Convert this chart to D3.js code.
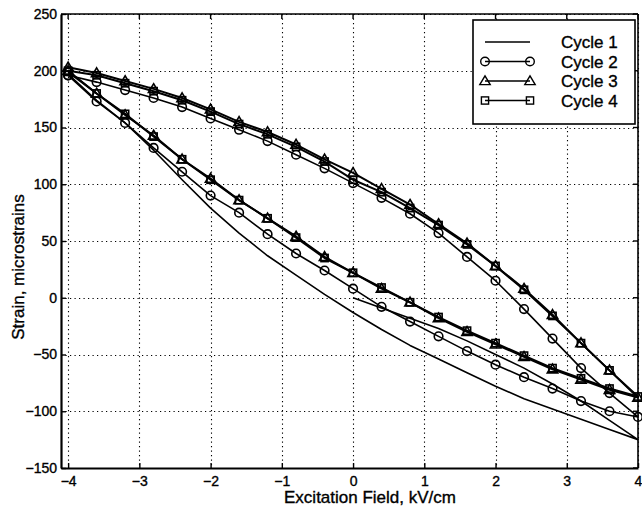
<!DOCTYPE html>
<html>
<head>
<meta charset="utf-8">
<script src="https://cdn.jsdelivr.net/npm/d3@7"></script>
<style>
  body { margin: 0; background: #fff; }
  svg { display: block; font-family: "Liberation Sans", Arial, Helvetica, sans-serif; }
  text { stroke: #000; stroke-width: 0.35px; }
</style>
</head>
<body>
<svg id="chart" width="642" height="513"></svg>
<script>
// Field sweeps, kV/cm
const fieldUp = [-4, -3.6, -3.2, -2.8, -2.4, -2, -1.6, -1.2, -0.8, -0.4, 0, 0.4, 0.8, 1.2, 1.6, 2, 2.4, 2.8, 3.2, 3.6, 4];
const fieldDown = [3.6, 3.2, 2.8, 2.4, 2, 1.6, 1.2, 0.8, 0.4, 0, -0.4, -0.8, -1.2, -1.6, -2, -2.4, -2.8, -3.2, -3.6, -4];
const fieldInitial = [0, 0.4, 0.8, 1.2, 1.6, 2, 2.4, 2.8, 3.2, 3.6, 4];

// Strain, microstrains
const cycle1Initial = [0, -9, -18, -27, -38, -50, -62, -76, -91, -108, -125];
const cycle1Down = [-116, -107, -98, -89, -78, -66, -54, -42, -28, -13, 3, 20, 37, 57, 79, 104, 130, 154, 174, 197];

const cycle2Up = [196, 190, 183, 176, 168, 158, 148, 138, 126, 114, 101, 88, 74, 57, 36, 15, -10, -36, -62, -84, -105];
const cycle2Down = [-100, -91, -80, -70, -59, -47, -34, -21, -8, 8, 24, 39, 56, 75, 90, 111, 132, 154, 173, 196];

const cycle3Up = [203, 198, 191, 184, 176, 166, 155, 146, 135, 122, 110, 96, 82, 65, 48, 28, 8, -15, -40, -64, -88];
const cycle3Down = [-81, -72, -63, -52, -41, -30, -18, -4, 8, 22, 36, 54, 70, 86, 105, 122, 143, 161, 180, 200];

const cycle4Up = [200, 196, 189, 182, 174, 164, 153, 144, 133, 120, 104, 93, 79, 64, 47, 28, 7, -16, -40, -64, -87];
const cycle4Down = [-80, -71, -62, -51, -40, -29, -17, -4, 9, 22, 35, 53, 70, 86, 104, 122, 142, 162, 180, 199];

const xTicks = [-4, -3, -2, -1, 0, 1, 2, 3, 4];
const yTicks = [-150, -100, -50, 0, 50, 100, 150, 200, 250];

const seriesNames = ["Cycle 1", "Cycle 2", "Cycle 3", "Cycle 4"];
const markerTypes = ["none", "circle", "triangle", "square"];

function pairUp(xs, ys) {
  return xs.map((x, i) => ({ x: x, y: ys[i] }));
}

const series = [
  pairUp(fieldInitial.concat(fieldDown), cycle1Initial.concat(cycle1Down)),
  pairUp(fieldUp.concat(fieldDown), cycle2Up.concat(cycle2Down)),
  pairUp(fieldUp.concat(fieldDown), cycle3Up.concat(cycle3Down)),
  pairUp(fieldUp.concat(fieldDown), cycle4Up.concat(cycle4Down))
];

/*
 * layout
 */
const plot = { left: 61, right: 638, top: 14, bottom: 468 };

const svg = d3.select("#chart");

const xScale = d3.scaleLinear().domain([-4.1, 4]).range([plot.left, plot.right]);
const yScale = d3.scaleLinear().domain([-150, 250]).range([plot.bottom, plot.top]);

// dotted grid
const grid = svg.append("g").attr("stroke", "#000").attr("stroke-width", 1.1)
  .attr("stroke-dasharray", "1.2,3.3");
grid.selectAll(".vg").data(xTicks).enter().append("line")
  .attr("x1", (d) => Math.round(xScale(d)) + 0.5).attr("x2", (d) => Math.round(xScale(d)) + 0.5)
  .attr("y1", plot.top).attr("y2", plot.bottom);
grid.selectAll(".hg").data(yTicks).enter().append("line")
  .attr("y1", (d) => Math.round(yScale(d)) + 0.5).attr("y2", (d) => Math.round(yScale(d)) + 0.5)
  .attr("x1", plot.left).attr("x2", plot.right);

// axes, MATLAB style ticks pointing inward
const axisFont = "14px";
const xAxis = svg.append("g")
  .attr("transform", `translate(0,${plot.bottom})`)
  .call(d3.axisBottom(xScale).tickValues(xTicks).tickSizeInner(-5).tickSizeOuter(0)
    .tickPadding(8).tickFormat((d) => (d < 0 ? "\u2212" + Math.abs(d) : d)));
const yAxis = svg.append("g")
  .attr("transform", `translate(${plot.left},0)`)
  .call(d3.axisLeft(yScale).tickValues(yTicks).tickSizeInner(-5).tickSizeOuter(0)
    .tickPadding(4).tickFormat((d) => (d < 0 ? "\u2212" + Math.abs(d) : d)));

[xAxis, yAxis].forEach((ax) => {
  ax.select(".domain").attr("stroke-width", 2.2);
  ax.selectAll(".tick line").attr("stroke-width", 1.4);
  ax.selectAll(".tick text")
    .style("font-size", axisFont)
    .style("font-family", '"Liberation Sans", Arial, sans-serif')
    .attr("fill", "#000");
});
xAxis.selectAll(".tick text").attr("dy", "0.71em");

// top and right border with their own ticks
const frame = svg.append("g").attr("stroke", "#000").attr("stroke-width", 1.4);
frame.append("line").attr("x1", plot.left).attr("x2", plot.right)
  .attr("y1", plot.top).attr("y2", plot.top).attr("stroke-width", 1.6);
frame.append("line").attr("x1", plot.right).attr("x2", plot.right)
  .attr("y1", plot.top).attr("y2", plot.bottom).attr("stroke-width", 1.6);
frame.selectAll(".tt").data(xTicks).enter().append("line")
  .attr("x1", (d) => xScale(d)).attr("x2", (d) => xScale(d))
  .attr("y1", plot.top).attr("y2", plot.top + 5);
frame.selectAll(".rt").data(yTicks).enter().append("line")
  .attr("y1", (d) => yScale(d)).attr("y2", (d) => yScale(d))
  .attr("x1", plot.right).attr("x2", plot.right - 5);

// axis titles
svg.append("text")
  .attr("x", 370).attr("y", 503)
  .attr("text-anchor", "middle")
  .style("font-size", "17px")
  .text("Excitation Field, kV/cm");

svg.append("text")
  .attr("transform", "translate(24,267) rotate(-90)")
  .attr("text-anchor", "middle")
  .style("font-size", "17px")
  .text("Strain, microstrains");

/*
 * lines and markers
 */
const lineGen = d3.line().x((d) => xScale(d.x)).y((d) => yScale(d.y));
const lineWidths = [1.6, 1.6, 2, 2];

function drawMarker(g, type, cx, cy) {
  if (type === "circle") {
    g.append("circle").attr("cx", cx).attr("cy", cy).attr("r", 4.3);
  } else if (type === "triangle") {
    const s = 5.2;
    g.append("path").attr("d", `M${cx},${cy - s}L${cx + s},${cy + s * 0.7}L${cx - s},${cy + s * 0.7}Z`);
  } else if (type === "square") {
    g.append("rect").attr("x", cx - 3.6).attr("y", cy - 3.6).attr("width", 7.2).attr("height", 7.2);
  }
}

series.forEach((pts, i) => {
  const g = svg.append("g").attr("class", "series");
  g.append("path")
    .attr("d", lineGen(pts))
    .attr("fill", "none")
    .attr("stroke", "#000")
    .attr("stroke-width", lineWidths[i])
    .attr("stroke-linejoin", "round");
  const mg = g.append("g").attr("fill", "none").attr("stroke", "#000").attr("stroke-width", 1.6);
  pts.forEach((p) => drawMarker(mg, markerTypes[i], xScale(p.x), yScale(p.y)));
});

/*
 * legend
 */
const legend = svg.append("g");
legend.append("rect")
  .attr("x", 473).attr("y", 20).attr("width", 162).attr("height", 104)
  .attr("fill", "#fff").attr("stroke", "#000").attr("stroke-width", 1.6);

seriesNames.forEach((name, i) => {
  const ly = 42 + i * 19.5;
  const row = legend.append("g");
  row.append("line").attr("x1", 485).attr("x2", 530).attr("y1", ly).attr("y2", ly)
    .attr("stroke", "#000").attr("stroke-width", 1.4);
  const mg = row.append("g").attr("fill", "none").attr("stroke", "#000").attr("stroke-width", 1.4);
  if (markerTypes[i] !== "none") {
    drawMarker(mg, markerTypes[i], 485, ly);
    drawMarker(mg, markerTypes[i], 530, ly);
  }
  row.append("text").attr("x", 561).attr("y", ly + 6)
    .style("font-size", "17px")
    .text(name);
});
</script>
</body>
</html>
